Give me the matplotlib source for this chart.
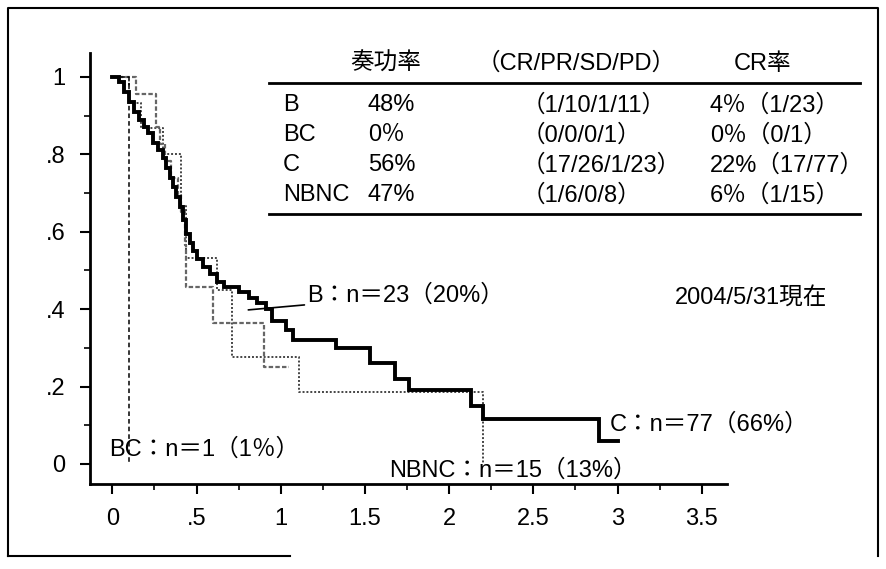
import matplotlib
matplotlib.use("Agg")
import matplotlib.pyplot as plt
from matplotlib.ticker import MultipleLocator, FixedLocator
from matplotlib.lines import Line2D

plt.rcParams['font.family'] = ['Liberation Sans', 'Noto Sans CJK JP']

W, H = 887, 569

# Curvas de supervivencia (tiempo de cada escalón, valor tras el escalón)
c_t = [0, 0.04, 0.07, 0.10, 0.13, 0.16, 0.19, 0.21, 0.24, 0.27, 0.30, 0.32, 0.34,
       0.36, 0.38, 0.40, 0.42, 0.44, 0.46, 0.48, 0.50, 0.54, 0.58, 0.62, 0.66,
       0.75, 0.81, 0.86, 0.91, 0.95, 1.03, 1.07, 1.33, 1.53, 1.68, 1.76, 2.13,
       2.20, 2.89]
c_s = [1.0, 0.987, 0.96, 0.935, 0.91, 0.89, 0.87, 0.855, 0.83, 0.81, 0.79, 0.765,
       0.74, 0.715, 0.69, 0.665, 0.63, 0.595, 0.57, 0.55, 0.53, 0.51, 0.49, 0.47,
       0.456, 0.443, 0.43, 0.415, 0.40, 0.37, 0.345, 0.32, 0.30, 0.26, 0.22,
       0.19, 0.15, 0.115, 0.058]
c_fin = 3.0

b_t = [0, 0.14, 0.26, 0.28, 0.31, 0.35, 0.39, 0.41, 0.43, 0.44, 0.60, 0.90]
b_s = [1.0, 0.957, 0.87, 0.826, 0.783, 0.739, 0.696, 0.652, 0.565, 0.457, 0.365, 0.25]
b_fin = 1.05

nbnc_t = [0, 0.10, 0.17, 0.30, 0.41, 0.44, 0.62, 0.71, 1.11, 2.20]
nbnc_s = [1.0, 0.933, 0.867, 0.80, 0.667, 0.533, 0.45, 0.277, 0.187, 0.0]
nbnc_fin = 2.2

bc_t = [0, 0.10]
bc_s = [1.0, 0.0]
bc_fin = 0.10

# Tabla de respuesta
grupos = ["B", "BC", "C", "NBNC"]
sokoritsu = ["48%", "0％", "56%", "47%"]
cr_pr_sd_pd = ["（1/10/1/11）", "（0/0/0/1）", "（17/26/1/23）", "（1/6/0/8）"]
cr_ritsu = ["4％（1/23）", "0％（0/1）", "22%（17/77）", "6％（1/15）"]
encabezados = ["奏功率", "（CR/PR/SD/PD）", "CR率"]

x_ticks = [0, 0.5, 1, 1.5, 2, 2.5, 3, 3.5]
x_labels = ["0", ".5", "1", "1.5", "2", "2.5", "3", "3.5"]
y_ticks = [0, 0.2, 0.4, 0.6, 0.8, 1.0]
y_labels = ["0", ".2", ".4", ".6", ".8", "1"]


def fx(px):
    return px / W


def fy(py):
    return 1 - py / H


fig = plt.figure(figsize=(W / 100, H / 100), dpi=100)
ax = fig.add_axes([fx(90.5), fy(484), fx(727) - fx(90.5), fy(53) - fy(484)])

fs = 17


def escalon(t, s, fin, **kw):
    ax.step(list(t) + [fin], list(s) + [s[-1]], where='post', **kw)


escalon(nbnc_t, nbnc_s, nbnc_fin, color='#444444', lw=1.4, linestyle=(0, (1, 1)))
escalon(b_t, b_s, b_fin, color='#666666', lw=1.6, linestyle=(0, (2, 1)))
escalon(bc_t, bc_s, bc_fin, color='black', lw=1.1, linestyle=(0, (3, 2)))
escalon(c_t, c_s, c_fin, color='black', lw=2.8, solid_joinstyle='miter')

ax.set_xlim(-0.13, 3.65)
ax.set_ylim(-0.052, 1.062)
ax.spines['top'].set_visible(False)
ax.spines['right'].set_visible(False)
for lado in ['left', 'bottom']:
    ax.spines[lado].set_linewidth(2)

ax.xaxis.set_major_locator(FixedLocator(x_ticks))
ax.set_xticklabels(x_labels)
ax.yaxis.set_major_locator(FixedLocator(y_ticks))
ax.set_yticklabels(y_labels)
ax.xaxis.set_minor_locator(MultipleLocator(0.25))
ax.yaxis.set_minor_locator(MultipleLocator(0.1))
ax.tick_params(which='major', length=7, width=1.5, labelsize=fs)
ax.tick_params(axis='x', which='major', pad=10)
ax.tick_params(axis='y', which='major', pad=11)
ax.tick_params(which='minor', length=4, width=1.2)

# Etiquetas de cada curva
ax.annotate("B：n＝23（20%）", xy=(0.807, 0.398), xytext=(1.157, 0.434),
            fontsize=fs, va='center', ha='left',
            arrowprops=dict(arrowstyle='-', color='black', lw=1.2,
                            shrinkA=0, shrinkB=0))
ax.text(3.34, 0.429, "2004/5/31現在", fontsize=fs, va='center', ha='left',
        clip_on=False)
ax.text(2.954, 0.101, "C：n＝77（66%）", fontsize=fs, va='center', ha='left',
        clip_on=False)
ax.text(-0.018, 0.036, "BC：n＝1（1％）", fontsize=fs, va='center', ha='left')
ax.text(1.643, -0.016, "NBNC：n＝15（13%）", fontsize=fs, va='center', ha='left')

# Tabla
fig.text(fx(386), fy(64), encabezados[0], fontsize=fs, ha='center', va='center')
fig.text(fx(576), fy(64), encabezados[1], fontsize=fs, ha='center', va='center')
fig.text(fx(763), fy(64), encabezados[2], fontsize=fs, ha='center', va='center')
fig.add_artist(Line2D([fx(269), fx(860)], [fy(83), fy(83)], color='black', lw=2))
fig.add_artist(Line2D([fx(269), fx(860)], [fy(214), fy(214)], color='black', lw=2))
for i, g in enumerate(grupos):
    yy = fy(105 + 30 * i)
    fig.text(fx(283), yy, g, fontsize=fs, ha='left', va='center')
    fig.text(fx(368), yy, sokoritsu[i], fontsize=fs, ha='left', va='center')
    fig.text(fx(522), yy, cr_pr_sd_pd[i], fontsize=fs, ha='left', va='center')
    fig.text(fx(710), yy, cr_ritsu[i], fontsize=fs, ha='left', va='center')

# Marco exterior
fig.add_artist(Line2D([fx(8), fx(8), fx(878), fx(878)],
                      [fy(556), fy(8), fy(8), fy(556)], color='black', lw=1.5))
fig.add_artist(Line2D([fx(8), fx(290)], [fy(556), fy(556)], color='black', lw=1.5))

fig.savefig("out.png", dpi=100)
